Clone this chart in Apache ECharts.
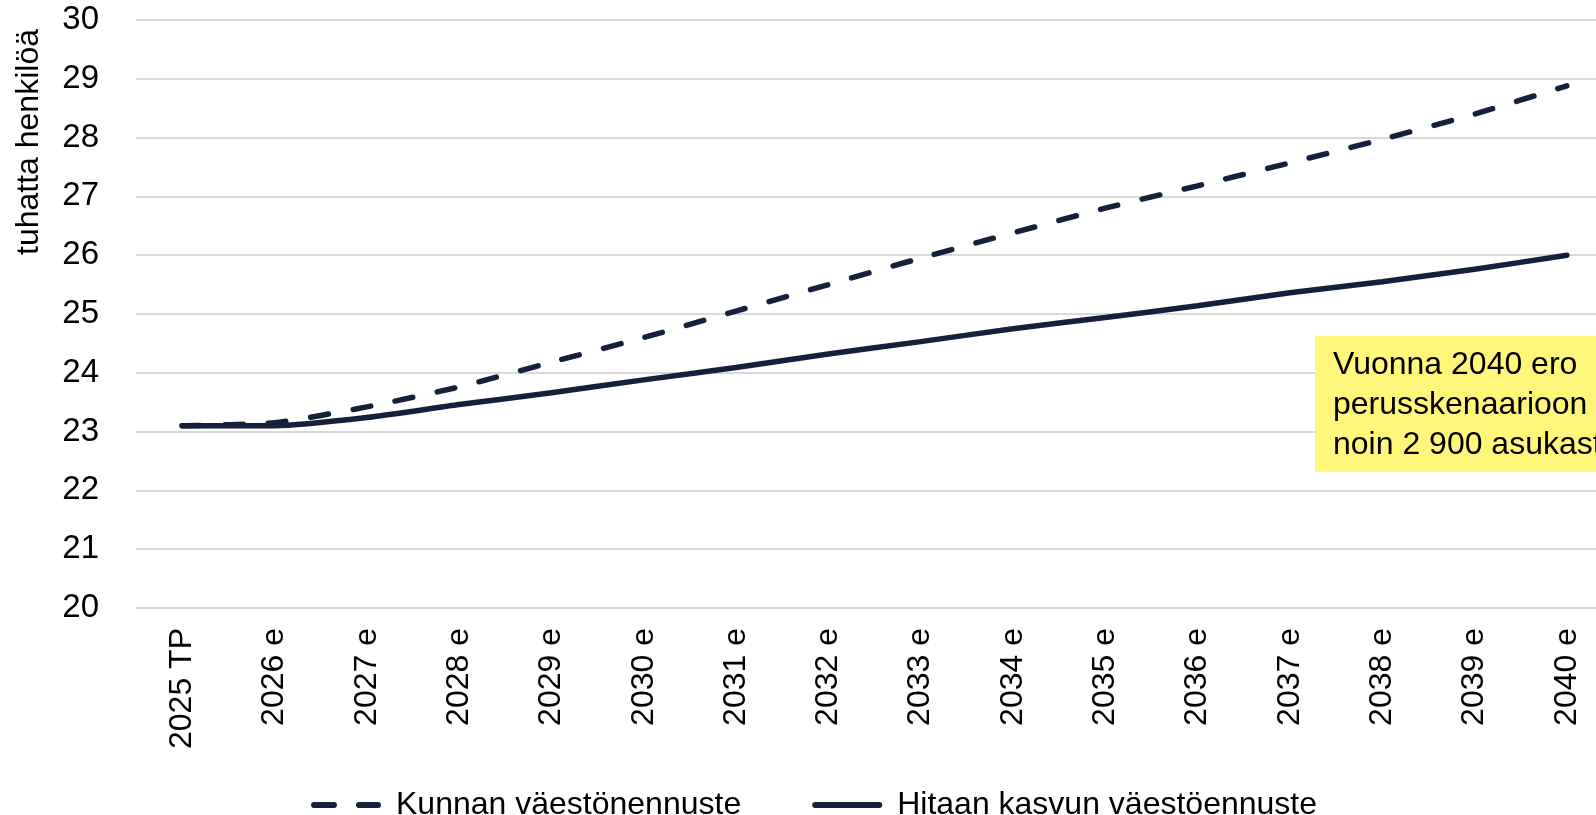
<!DOCTYPE html>
<html lang="fi">
<head>
    <meta charset="UTF-8">
    <title>Väestöennuste</title>
    <script src="https://cdn.jsdelivr.net/npm/echarts@6/dist/echarts.min.js"></script>
    <style>
        html, body { margin: 0; padding: 0; background: #fff; overflow: hidden; }
        /* kaavio jatkuu hieman oikean reunan yli, kuten alkuperäisessä kuvassa */
        #main { width: 1620px; height: 815px; }
    </style>
</head>
<body>
<div id="main"></div>
<script type="text/javascript">
    // vuodet ja ennusteet (tuhatta henkilöä)
    var years = ['2025 TP', '2026 e', '2027 e', '2028 e', '2029 e', '2030 e', '2031 e', '2032 e',
        '2033 e', '2034 e', '2035 e', '2036 e', '2037 e', '2038 e', '2039 e', '2040 e'];
    var kunnanEnnuste = [23.1, 23.15, 23.42, 23.76, 24.18, 24.6, 25.05, 25.5,
        25.95, 26.38, 26.8, 27.18, 27.57, 27.97, 28.4, 28.88];
    var hitaanKasvun = [23.1, 23.1, 23.24, 23.46, 23.66, 23.88, 24.09, 24.32,
        24.53, 24.75, 24.94, 25.14, 25.36, 25.55, 25.76, 26.0];
    var seriesNames = ['Kunnan väestönennuste', 'Hitaan kasvun väestöennuste'];

    var font = 'Liberation Sans, Arial, sans-serif';
    var navy = '#15213b';

    // legendan kuvakkeet: katkoviiva ja yhtenäinen viiva
    var dashIcon = 'path://M3,0 H23 A3,3 0 0 1 23,6 H3 A3,3 0 0 1 3,0 Z M48,0 H67 A3,3 0 0 1 67,6 H48 A3,3 0 0 1 48,0 Z';
    var solidIcon = 'path://M3,0 H67 A3,3 0 0 1 67,6 H3 A3,3 0 0 1 3,0 Z';

    var myChart = echarts.init(document.getElementById('main'));

    myChart.setOption({
        animation: false,
        textStyle: { fontFamily: font },
        grid: { left: 136, right: 7, top: 20, bottom: 207, containLabel: false },
        legend: {
            data: [
                { name: seriesNames[0], icon: dashIcon },
                { name: seriesNames[1], icon: solidIcon }
            ],
            left: 306,
            top: 784,
            itemWidth: 70,
            itemHeight: 6,
            itemGap: 71,
            textStyle: { fontSize: 32, color: '#000', fontFamily: font, padding: [0, 0, 0, 10] }
        },
        xAxis: {
            type: 'category',
            data: years,
            boundaryGap: true,
            axisLine: { lineStyle: { color: '#d9d9d9', width: 2 } },
            axisTick: { show: false },
            axisLabel: { rotate: 90, interval: 0, margin: 20, fontSize: 32, color: '#000', fontFamily: font }
        },
        yAxis: {
            type: 'value',
            min: 20,
            max: 30,
            interval: 1,
            axisLine: { show: false },
            axisTick: { show: false },
            splitLine: { lineStyle: { color: '#d9d9d9', width: 2 } },
            axisLabel: { margin: 37, fontSize: 33, color: '#000', fontFamily: font }
        },
        series: [{
            name: seriesNames[0],
            type: 'line',
            data: kunnanEnnuste,
            smooth: 0.2,
            symbol: 'none',
            lineStyle: { color: navy, width: 5.5, type: [18, 25], cap: 'round' },
            itemStyle: { color: navy }
        }, {
            name: seriesNames[1],
            type: 'line',
            data: hitaanKasvun,
            smooth: 0.2,
            symbol: 'none',
            lineStyle: { color: navy, width: 5.5, cap: 'round' },
            itemStyle: { color: navy }
        }],
        graphic: [{
            type: 'text',
            x: 29,
            y: 142,
            rotation: Math.PI / 2,
            style: {
                text: 'tuhatta henkilöä',
                fontSize: 32,
                fontFamily: font,
                fill: '#000',
                align: 'center',
                verticalAlign: 'middle'
            }
        }, {
            type: 'rect',
            shape: { x: 1315, y: 336, width: 320, height: 136 },
            style: { fill: '#fff67a' },
            z: 10
        }, {
            type: 'text',
            x: 1333,
            y: 405,
            z: 11,
            style: {
                text: 'Vuonna 2040 ero\nperusskenaarioon\nnoin 2 900 asukasta',
                fontSize: 32,
                lineHeight: 40,
                fontFamily: font,
                fill: '#000',
                align: 'left',
                verticalAlign: 'middle'
            }
        }]
    });
</script>
</body>
</html>
